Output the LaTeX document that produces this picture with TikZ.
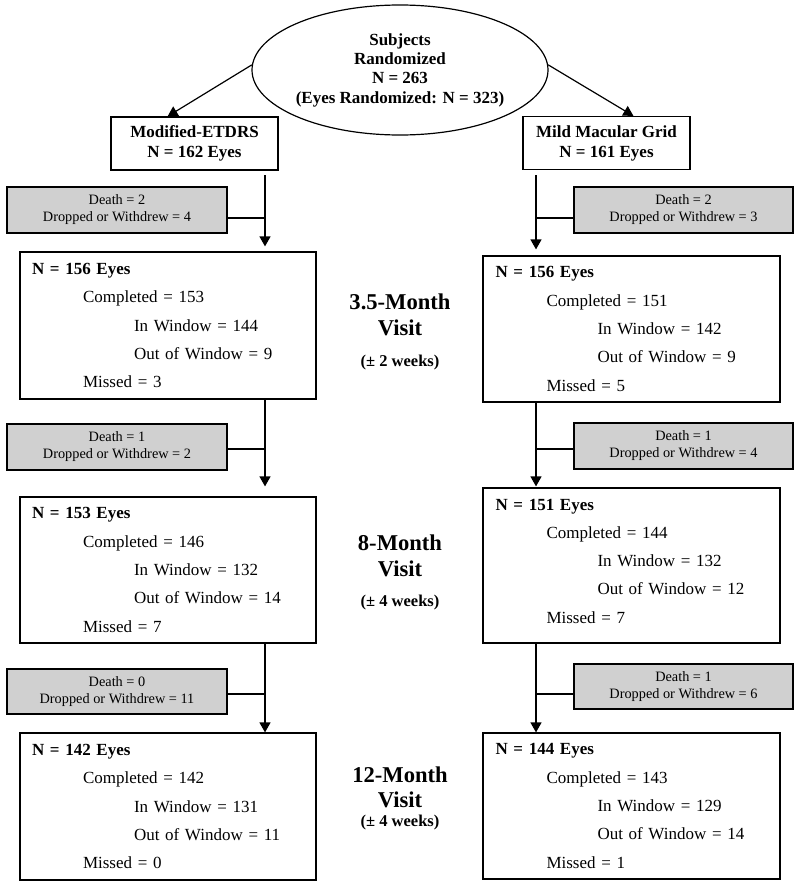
\documentclass[tikz,border=0pt]{standalone}
\usepackage{fontspec}
\setmainfont{Liberation Serif}
\usetikzlibrary{arrows.meta,shapes.geometric,calc}
\definecolor{boxgray}{RGB}{208,208,208}
\newcommand\indA{\hspace*{51pt}}
\newcommand\indB{\hspace*{102pt}}
\begin{document}
\begin{tikzpicture}[x=1pt,y=-1pt,
  ln/.style={line width=1.2pt,draw=black},
  arr/.style={ln,-{Triangle[length=10pt,width=11pt]}},
  topbox/.style={draw,line width=1.2pt,minimum width=167pt,minimum height=53pt,inner sep=0pt,align=center,font=\fontsize{17}{20}\selectfont\bfseries},
  graybox/.style={draw,line width=1.1pt,fill=boxgray,minimum width=220pt,minimum height=46pt,inner sep=0pt,align=center,font=\fontsize{14.3}{17}\selectfont},
  bigbox/.style={draw,line width=1.2pt,minimum width=296pt,minimum height=147pt,inner xsep=12pt,inner ysep=0pt,text width=272pt,align=left,font=\fontsize{17}{28.3}\selectfont},
  visit/.style={align=center,font=\fontsize{22.6}{26}\selectfont\bfseries},
  weeks/.style={font=\fontsize{16.5}{19}\selectfont\bfseries},
]
\fill[white] (0,0) rectangle (800,886);
\useasboundingbox (0,0) rectangle (800,886);

% top
\node[ellipse,draw,line width=1.2pt,minimum width=296pt,minimum height=130pt,inner sep=0pt,align=center,font=\fontsize{17}{19.3}\selectfont\bfseries] (ell) at (400,70) {Subjects\\Randomized\\N = 263\\(Eyes Randomized: N = 323)};
\node[topbox] (lt) at (194.5,143.5) {Modified-ETDRS\\N = 162 Eyes};
\node[topbox] (rt) at (606.5,143) {Mild Macular Grid\\N = 161 Eyes};

% gray boxes
\node[graybox] (g1) at (117,210) {Death = 2\\Dropped or Withdrew = 4};
\node[graybox] (g2) at (117,447) {Death = 1\\Dropped or Withdrew = 2};
\node[graybox,minimum height=45pt] (g3) at (117,691.5) {Death = 0\\Dropped or Withdrew = 11};
\node[graybox,minimum width=219pt] (h1) at (683.5,210) {Death = 2\\Dropped or Withdrew = 3};
\node[graybox,minimum width=219pt] (h2) at (683.5,446) {Death = 1\\Dropped or Withdrew = 4};
\node[graybox,minimum width=219pt,minimum height=45pt] (h3) at (683.5,686.5) {Death = 1\\Dropped or Withdrew = 6};

% big boxes left
\node[bigbox] (l1) at (168,325.5) {{\bfseries N = 156 Eyes}\\\indA Completed = 153\\\indB In Window = 144\\\indB Out of Window = 9\\\indA Missed = 3};
\node[bigbox,minimum height=146pt] (l2) at (168,570) {{\bfseries N = 153 Eyes}\\\indA Completed = 146\\\indB In Window = 132\\\indB Out of Window = 14\\\indA Missed = 7};
\node[bigbox] (l3) at (168,806.5) {{\bfseries N = 142 Eyes}\\\indA Completed = 142\\\indB In Window = 131\\\indB Out of Window = 11\\\indA Missed = 0};

% big boxes right
\node[bigbox,minimum width=297pt,minimum height=146pt] (r1) at (631.5,329) {{\bfseries N = 156 Eyes}\\\indA Completed = 151\\\indB In Window = 142\\\indB Out of Window = 9\\\indA Missed = 5};
\node[bigbox,minimum width=297pt,minimum height=155pt] (r2) at (631.5,565.5) {{\bfseries N = 151 Eyes}\\\indA Completed = 144\\\indB In Window = 132\\\indB Out of Window = 12\\\indA Missed = 7\rule[-9pt]{0pt}{9pt}};
\node[bigbox,minimum width=297pt,minimum height=146pt] (r3) at (631.5,806) {{\bfseries N = 144 Eyes}\\\indA Completed = 143\\\indB In Window = 129\\\indB Out of Window = 14\\\indA Missed = 1};

% visit labels
\node[visit] (v1) at (400,315) {3.5-Month\\Visit};
\node[weeks] (w1) at (400,363) {(± 2 weeks)};
\node[visit] (v2) at (400,555.5) {8-Month\\Visit};
\node[weeks] (w2) at (400,603) {(± 4 weeks)};
\node[visit,font=\fontsize{22.6}{25}\selectfont\bfseries] (v3) at (400,787.5) {12-Month\\Visit};
\node[weeks] (w3) at (400,823) {(± 4 weeks)};

% connectors from ellipse
\draw[arr] (ell.178) -- ($(lt.north west)!0.34!(lt.north east)$);
\draw[arr] (ell.2) -- ($(rt.north west)!0.66!(rt.north east)$);

% left chain
\coordinate (lc0) at (265,175);
\draw[arr,shorten >=5pt] (lc0) -- (l1.north -| lc0);
\draw[arr,shorten >=10pt] (l1.south -| lc0) -- (l2.north -| lc0);
\draw[arr] (l2.south -| lc0) -- (l3.north -| lc0);
\coordinate (g1c) at ($(g1.east)+(0,8)$);
\coordinate (g2c) at ($(g2.east)+(0,2)$);
\coordinate (g3c) at ($(g3.east)+(0,2.5)$);
\draw[ln] (g1c) -- (g1c -| lc0);
\draw[ln] (g2c) -- (g2c -| lc0);
\draw[ln] (g3c) -- (g3c -| lc0);

% right chain
\coordinate (rc0) at (536,175);
\draw[arr,shorten >=6pt] (rc0) -- (r1.north -| rc0);
\draw[arr,shorten >=1pt] (r1.south -| rc0) -- (r2.north -| rc0);
\draw[arr] (r2.south -| rc0) -- (r3.north -| rc0);
\coordinate (h1c) at ($(h1.west)+(0,8)$);
\coordinate (h2c) at ($(h2.west)+(0,3)$);
\coordinate (h3c) at ($(h3.west)+(0,7.5)$);
\draw[ln] (h1c) -- (h1c -| rc0);
\draw[ln] (h2c) -- (h2c -| rc0);
\draw[ln] (h3c) -- (h3c -| rc0);
\end{tikzpicture}
\end{document}
